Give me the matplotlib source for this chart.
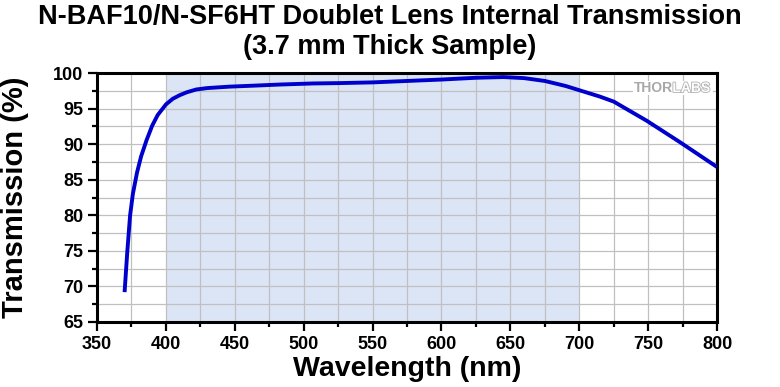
import matplotlib
matplotlib.use("Agg")
import matplotlib.pyplot as plt
import matplotlib.patheffects as pe
from matplotlib.patches import Rectangle
from matplotlib.ticker import MultipleLocator

plt.rcParams['font.family'] = ['Liberation Sans', 'DejaVu Sans']

wavelength = [370, 372, 374, 376, 379, 382, 386, 390, 394, 400, 405, 410, 415,
              422, 430, 446, 465, 483, 507, 526, 550, 575, 600, 625, 645, 660,
              675, 690, 700, 715, 725, 749, 773, 800]
transmission = [69.2, 75.0, 80.0, 83.0, 86.0, 88.3, 90.6, 92.6, 94.1, 95.6, 96.4,
                96.9, 97.3, 97.7, 97.9, 98.1, 98.25, 98.4, 98.55, 98.6, 98.7, 98.9,
                99.1, 99.35, 99.45, 99.3, 98.9, 98.2, 97.6, 96.7, 96.0, 93.3, 90.3,
                86.8]
band = (400, 700)

fig = plt.figure(figsize=(7.8, 3.87), dpi=100)
ax = fig.add_axes([0.1244, 0.168, 0.7949, 0.643])

ax.axvspan(band[0], band[1], color='#dce5f6', zorder=0, lw=0)
ax.plot(wavelength, transmission, color='#0000cc', lw=2.8, zorder=3,
        solid_capstyle='butt')

ax.set_xlim(350, 800)
ax.set_ylim(65, 100)
ax.xaxis.set_major_locator(MultipleLocator(50))
ax.xaxis.set_minor_locator(MultipleLocator(25))
ax.yaxis.set_major_locator(MultipleLocator(5))
ax.yaxis.set_minor_locator(MultipleLocator(2.5))
ax.grid(which='both', color='#c0c0c0', lw=0.9, zorder=1)
ax.set_axisbelow(True)
for s in ax.spines.values():
    s.set_linewidth(2.2)
ax.tick_params(which='major', direction='out', length=6.5, width=1.6,
               labelsize=13)
ax.tick_params(axis='x', which='major', pad=3.5)
ax.tick_params(axis='y', which='major', pad=3.5)
ax.tick_params(which='minor', direction='out', length=3.5, width=1.6)
for lab in ax.get_xticklabels() + ax.get_yticklabels():
    lab.set_fontweight('bold')

ax.set_xlabel('Wavelength (nm)', fontsize=20.5, fontweight='bold')
ax.xaxis.set_label_coords(0.5, -0.135)
ax.set_ylabel('Transmission (%)', fontsize=21, fontweight='bold')
ax.yaxis.set_label_coords(-0.11, 0.5)
fig.text(0.5, 1 - 4 / 387,
         'N-BAF10/N-SF6HT Doublet Lens Internal Transmission\n(3.7 mm Thick Sample)',
         ha='center', va='top', fontsize=19.5, fontweight='bold', linespacing=1.2)

# logo in the upper right corner, on a white patch that hides the grid
ax.add_patch(Rectangle((633 / 780, 1 - 95 / 387), 80 / 780, 14 / 387,
                       transform=fig.transFigure, facecolor='white',
                       edgecolor='none', zorder=4))
fig.canvas.draw()
r = fig.canvas.get_renderer()
logo_y = 1 - 88 / 387
labs = ax.text(710 / 780, logo_y, 'LABS', transform=fig.transFigure,
               ha='right', va='center', fontsize=10, fontweight='bold',
               color='white', zorder=5,
               path_effects=[pe.withStroke(linewidth=1.2, foreground='#b0b0b0')])
x0 = labs.get_window_extent(r).x0 + 1
ax.text(x0 / 780, logo_y, 'THOR', transform=fig.transFigure,
        ha='right', va='center', fontsize=10, fontweight='bold',
        color='#a8a8a8', zorder=5)

fig.savefig('out.png', dpi=100)
